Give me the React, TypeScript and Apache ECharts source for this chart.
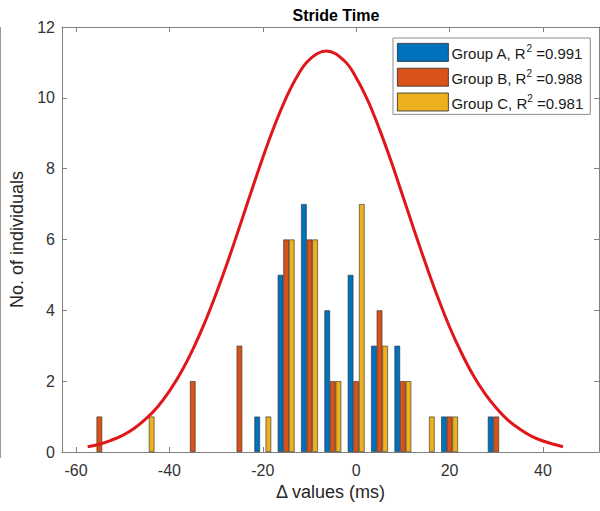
import React, { useEffect, useRef } from "react";
import * as echarts from "echarts";

const binCenters = [-55, -50, -45, -40, -35, -30, -25, -20, -15, -10, -5, 0, 5, 10, 15, 20, 25, 30];
const groupNames = ["Group A", "Group B", "Group C"];
const groupR2 = ["0.991", "0.988", "0.981"];
const countsA = [0, 0, 0, 0, 0, 0, 0, 1, 5, 7, 4, 5, 3, 3, 0, 1, 0, 1];
const countsB = [1, 0, 0, 0, 2, 0, 3, 0, 6, 6, 2, 2, 4, 2, 0, 1, 0, 1];
const countsC = [0, 0, 1, 0, 0, 0, 0, 1, 6, 6, 2, 7, 3, 2, 1, 1, 0, 0];
const groupColors = ["#0072BD", "#D95319", "#EDB120"];

const curveX = [
  -57.5, -55, -52.5, -50, -47.5, -45, -42.5, -40, -37.5, -35, -32.5, -30, -27.5, -25, -22.5, -20, -17.5, -15,
  -12.5, -10, -6.4, -2.5, 0, 2.5, 5, 7.5, 10, 12.5, 15, 17.5, 20, 22.5, 25, 27.5, 30, 32.5, 35, 37.5, 40,
  42.5, 44.3,
];
const curveY = [
  0.15, 0.22, 0.33, 0.47, 0.67, 0.94, 1.28, 1.72, 2.25, 2.89, 3.63, 4.47, 5.38, 6.35, 7.34, 8.31, 9.21, 10.0,
  10.64, 11.08, 11.32, 11.04, 10.57, 9.92, 9.11, 8.2, 7.22, 6.23, 5.27, 4.36, 3.53, 2.81, 2.18, 1.66, 1.24,
  0.9, 0.65, 0.45, 0.31, 0.21, 0.15,
];

const xTicks = [-60, -40, -20, 0, 20, 40];
const xMin = -63;
const xMax = 52;
const yMin = 0;
const yMax = 12;
const yStep = 2;

const FONT = "'Liberation Sans', Arial, Helvetica, sans-serif";
const AXIS_COLOR = "#808080";

export default function App() {
  const ref = useRef<HTMLDivElement | null>(null);
  useEffect(() => {
    if (!ref.current) return;
    const chart = echarts.init(ref.current, null, { renderer: "svg" });
    const allCounts = [countsA, countsB, countsC];
    const barSeries = groupNames.map((name, gi) => ({
      name,
      type: "bar",
      barWidth: 5.6,
      barGap: "0%",
      itemStyle: { color: groupColors[gi], borderColor: "#2a2a2a", borderWidth: 0.6 },
      data: binCenters
        .map((b, i) => [b, allCounts[gi][i]])
        .filter((d) => d[1] > 0),
      z: 2,
    }));
    const r2Map: Record<string, string> = {};
    groupNames.forEach((n, i) => (r2Map[n] = groupR2[i]));
    const lineStyle = { color: AXIS_COLOR, width: 1 };
    chart.setOption({
      animation: false,
      textStyle: { fontFamily: FONT },
      title: {
        text: "Stride Time",
        left: 331,
        top: 2,
        textAlign: "center",
        textStyle: { fontSize: 16, fontWeight: "bold", color: "#000", fontFamily: FONT },
      },
      grid: { left: 62, top: 27, right: 1, bottom: 59, outerBoundsMode: "none" },
      legend: {
        orient: "vertical",
        left: 393,
        top: 38,
        padding: [5, 7, 3, 4],
        itemWidth: 51,
        itemHeight: 18,
        itemGap: 6,
        icon: "rect",
        backgroundColor: "#fff",
        borderColor: "#8c8c8c",
        borderWidth: 1,
        borderRadius: 0,
        data: groupNames,
        itemStyle: { borderColor: "#2a2a2a", borderWidth: 0.8 },
        formatter: (name: string) => `{n|${name}, R}{s|2}{n| =${r2Map[name]}}`,
        textStyle: {
          fontFamily: FONT,
          color: "#1a1a1a",
          padding: [0, 0, 0, -2],
          rich: {
            n: { fontSize: 15, fontFamily: FONT, color: "#1a1a1a", verticalAlign: "bottom" },
            s: { fontSize: 10, fontFamily: FONT, color: "#1a1a1a", verticalAlign: "bottom", padding: [0, 0, 8, 0] },
          },
        },
      },
      xAxis: [
        {
          type: "value",
          min: xMin,
          max: xMax,
          position: "bottom",
          name: "\u0394 values (ms)",
          nameLocation: "middle",
          nameGap: 31,
          nameTextStyle: { fontSize: 18, color: "#262626", fontFamily: FONT },
          axisLine: { show: true, onZero: false, lineStyle },
          axisTick: { show: true, inside: true, length: 5, customValues: xTicks, lineStyle },
          axisLabel: { customValues: xTicks, fontSize: 16, color: "#333", margin: 10, fontFamily: FONT },
          splitLine: { show: false },
        },
        {
          type: "value",
          min: xMin,
          max: xMax,
          position: "top",
          axisLine: { show: true, onZero: false, lineStyle },
          axisTick: { show: true, inside: true, length: 5, customValues: xTicks, lineStyle },
          axisLabel: { show: false },
          splitLine: { show: false },
        },
      ],
      yAxis: [
        {
          type: "value",
          min: yMin,
          max: yMax,
          interval: yStep,
          position: "left",
          name: "No. of individuals",
          nameLocation: "middle",
          nameGap: 32,
          nameTextStyle: { fontSize: 18, color: "#262626", fontFamily: FONT },
          axisLine: { show: true, onZero: false, lineStyle },
          axisTick: { show: true, inside: true, length: 5, lineStyle },
          axisLabel: { fontSize: 16, color: "#333", margin: 7, fontFamily: FONT },
          splitLine: { show: false },
        },
        {
          type: "value",
          min: yMin,
          max: yMax,
          interval: yStep,
          position: "right",
          axisLine: { show: true, onZero: false, lineStyle },
          axisTick: { show: true, inside: true, length: 5, lineStyle },
          axisLabel: { show: false },
          splitLine: { show: false },
        },
      ],
      graphic: [
        {
          type: "line",
          shape: { x1: 0.5, y1: 27, x2: 0.5, y2: 458 },
          style: { stroke: "#9a9a9a", lineWidth: 1 },
        },
      ],
      series: [
        ...barSeries,
        {
          name: "fit",
          type: "line",
          smooth: 0.4,
          symbol: "none",
          lineStyle: { color: "#e0161b", width: 3 },
          itemStyle: { color: "#e0161b" },
          data: curveX.map((x, i) => [x, curveY[i]]),
          z: 5,
        },
      ],
    });
    return () => chart.dispose();
  }, []);
  return (
    <div
      ref={ref}
      style={{ position: "absolute", left: 0, top: 0, width: 600, height: 511, background: "#fff" }}
    />
  );
}
